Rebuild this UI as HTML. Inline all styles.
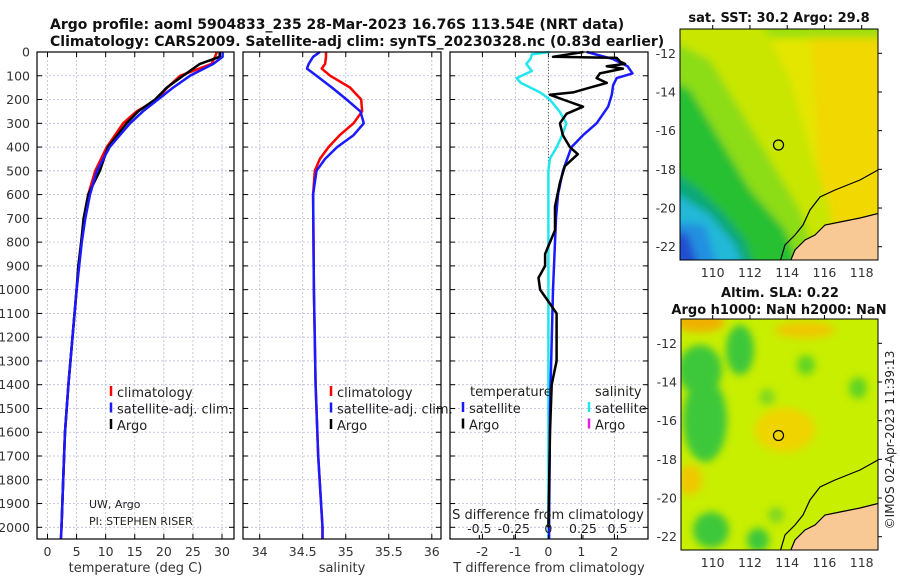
<!DOCTYPE html>
<html><head><meta charset="utf-8">
<style>
body{margin:0;background:#fff;width:900px;height:580px;overflow:hidden;font-family:"Liberation Sans","DejaVu Sans",sans-serif;}
svg text{font-family:"DejaVu Sans","Liberation Sans",sans-serif;}
</style></head>
<body>
<svg id="fig" width="900" height="580" viewBox="0 0 900 580">
<g id="titles">
<text x="50" y="29" font-size="14" font-weight="bold" fill="#111">Argo profile: aoml 5904833_235 28-Mar-2023 16.76S 113.54E (NRT data)</text>
<text x="50" y="46" font-size="14" font-weight="bold" fill="#111">Climatology: CARS2009. Satellite-adj clim: synTS_20230328.nc (0.83d earlier)</text>
</g>
<g id="panels"></g>
<g id="maps">
 <defs>
  <filter id="bl" x="-20%" y="-20%" width="140%" height="140%"><feGaussianBlur stdDeviation="4"/></filter>
  <filter id="bl2" x="-20%" y="-20%" width="140%" height="140%"><feGaussianBlur stdDeviation="4"/></filter>
  <clipPath id="c1"><rect x="680" y="29" width="198" height="231"/></clipPath>
  <clipPath id="c2"><rect x="681" y="319" width="197" height="231"/></clipPath>
 </defs>
 <text x="779" y="22" font-size="13" font-weight="bold" text-anchor="middle" fill="#111">sat. SST: 30.2 Argo: 29.8</text>
 <g clip-path="url(#c1)">
  <rect x="680" y="29" width="198" height="231" fill="#e4e600"/>
  <g filter="url(#bl)">
   <polygon points="810,20 890,20 890,270 830,270 820,200" fill="#f0d800"/>
   <rect x="670" y="20" width="220" height="18" fill="#9ee010"/>
   <polygon points="670,20 760,20 790,80 810,150 830,210 840,270 670,270" fill="#c8e600"/>
   <polygon points="670,40 710,60 740,110 770,160 800,210 820,270 670,270" fill="#8cdc18"/>
   <polygon points="670,80 690,90 720,140 750,190 785,230 800,270 670,270" fill="#28c030"/>
   <polygon points="670,170 700,190 725,215 745,240 755,270 670,270" fill="#10a878"/>
   <polygon points="670,190 710,215 735,245 745,270 670,270" fill="#20b8d8"/>
   <polygon points="670,222 705,225 718,270 670,270" fill="#2090e0"/>
   <polygon points="670,232 688,234 700,270 670,270" fill="#2050d0"/>
  </g>
  <polygon points="880,200 880,213 860,218 840,222 825,225 815,235 805,240 795,250 790,262 880,262" fill="#f9c995"/>
  <polyline points="878,170 860,180 835,190 820,197 810,210 803,225 795,235 785,245 780,262" fill="none" stroke="#000" stroke-width="1.2"/>
  <polyline points="880,213 860,218 840,222 825,225 815,235 805,240 795,250 790,262" fill="none" stroke="#000" stroke-width="1.2"/>
  <circle cx="778.5" cy="145" r="5" fill="none" stroke="#000" stroke-width="1.2"/>
 </g>
 <rect x="680" y="29" width="198" height="231" fill="none" stroke="#000" stroke-width="1"/>
 <text x="780" y="297" font-size="13" font-weight="bold" text-anchor="middle" fill="#111">Altim. SLA: 0.22</text>
 <text x="779" y="314" font-size="13" font-weight="bold" text-anchor="middle" fill="#111">Argo h1000: NaN h2000: NaN</text>
 <g clip-path="url(#c2)">
  <rect x="681" y="319" width="197" height="231" fill="#c8ee00"/>
  <g filter="url(#bl2)">
   <ellipse cx="700" cy="322" rx="25" ry="10" fill="#f0b000"/>
   <ellipse cx="805" cy="330" rx="30" ry="8" fill="#f0c800"/>
   <ellipse cx="785" cy="430" rx="30" ry="22" fill="#f0d400"/>
   <ellipse cx="690" cy="480" rx="12" ry="15" fill="#f0c800"/>
   <ellipse cx="700" cy="370" rx="22" ry="25" fill="#3cc83a"/>
   <ellipse cx="740" cy="350" rx="14" ry="25" fill="#3cc83a"/>
   <ellipse cx="705" cy="420" rx="22" ry="42" fill="#3cc83a"/>
   <ellipse cx="711" cy="530" rx="18" ry="18" fill="#3cc83a"/>
   <ellipse cx="758" cy="540" rx="11" ry="12" fill="#3cc83a"/>
   <ellipse cx="806" cy="365" rx="9" ry="10" fill="#60d424"/>
   <ellipse cx="858" cy="388" rx="9" ry="11" fill="#60d424"/>
   <ellipse cx="767" cy="397" rx="8" ry="8" fill="#80d820"/>
   <ellipse cx="776" cy="515" rx="8" ry="8" fill="#80d820"/>
  </g>
  <polygon points="880,490 880,503 860,508 840,512 825,515 815,525 805,530 795,540 790,552 880,552" fill="#f9c995"/>
  <polyline points="878,460 860,470 835,480 820,487 810,500 803,515 795,525 785,535 780,552" fill="none" stroke="#000" stroke-width="1.2"/>
  <polyline points="880,503 860,508 840,512 825,515 815,525 805,530 795,540 790,552" fill="none" stroke="#000" stroke-width="1.2"/>
  <circle cx="778.5" cy="435.5" r="5" fill="none" stroke="#000" stroke-width="1.2"/>
 </g>
 <rect x="681" y="319" width="197" height="231" fill="none" stroke="#000" stroke-width="1"/>
 <g id="mapticks"></g>
 <text transform="translate(894,440) rotate(-90)" font-size="12" text-anchor="middle" fill="#222">©IMOS 02-Apr-2023 11:39:13</text>
</g>
</svg>
<script>
// ---- data ----
const tempDepth = [0,20,50,100,150,200,250,300,400,500,600,700,800,900,1000,1400,1600,1800,2000,2050];
const tempClim  = [29.1,28.8,28.2,22.8,20.6,18.8,15.3,13.0,10.2,8.2,7.0,6.3,5.8,5.4,5.0,3.6,3.0,2.7,2.4,2.3];
const tempSat   = [30.1,30.1,28.5,24.5,21.6,19.0,16.4,14.2,10.7,8.5,7.3,6.5,5.9,5.45,5.0,3.6,3.0,2.7,2.4,2.3];
const tempArgo  = [29.6,29.6,26.2,23.3,20.5,18.5,15.6,13.6,10.4,9.0,7.0,6.2,5.8,5.3,5.0,3.6,3.0,2.7,2.4];
const salDepth  = [0,20,50,70,100,150,200,250,300,350,400,450,500,600,1000,1400,1700,2000,2050];
const salClim   = [34.77,34.77,34.76,34.72,34.82,35.05,35.18,35.19,35.09,34.93,34.80,34.70,34.64,34.62,34.63,34.65,34.68,34.73,34.73];
const salSat    = [34.70,34.62,34.57,34.55,34.66,34.84,35.01,35.17,35.21,35.09,34.90,34.76,34.66,34.62,34.63,34.65,34.68,34.73,34.73];
const dArgoDepth= [0,20,25,40,50,60,70,90,110,130,150,170,180,200,230,260,300,350,400,430,480,550,650,750,800,850,900,950,1000,1050,1100,1300,1400,1600,2000];
const dTArgo    = [1.06,0.14,2.07,2.17,2.32,1.77,2.26,1.56,1.46,1.77,1.26,0.75,0.05,0.44,1.05,0.55,0.35,0.44,0.65,0.89,0.5,0.35,0.2,0.2,0.05,-0.1,-0.1,-0.3,-0.25,0.0,0.25,0.25,0.1,0.05,0.0];
const dSatDepth = [0,30,60,90,110,140,180,230,300,350,400,500,600,700,900,1000,1500,2000,2050];
const dTSat     = [1.16,1.96,2.4,2.55,2.07,1.96,1.92,1.81,1.46,1.05,0.7,0.44,0.29,0.23,0.17,0.14,0.05,0.02,0.02];
const dSDepth   = [0,10,30,50,80,110,130,170,200,250,300,350,400,450,500,700,1000,2000,2050];
const dSSat     = [0.01,-0.12,-0.13,-0.16,-0.12,-0.23,-0.2,-0.06,0.01,0.08,0.13,0.1,0.06,0.01,0,0,0,0,0];
const depthTicks = [0,100,200,300,400,500,600,700,800,900,1000,1100,1200,1300,1400,1500,1600,1700,1800,1900,2000];
const tempTicks = [0,5,10,15,20,25,30];
const salTicks = [34,34.5,35,35.5,36];
const dTTicks = [-2,-1,0,1,2];
const dSTicks = [-0.5,-0.25,0,0.25,0.5];
const dSTickLabels = ['-0.5','-0.25','0','0.25','0.5'];
const latTicks = [-12,-14,-16,-18,-20,-22];
const lonTicks = [110,112,114,116,118];

// ---- helpers ----
const NS='http://www.w3.org/2000/svg';
const root=document.getElementById('panels');
function mk(tag,attrs,parent){const e=document.createElementNS(NS,tag);for(const k in attrs)e.setAttribute(k,attrs[k]);(parent||root).appendChild(e);return e;}
const yTop=52, yBot=539;
const yD=d=>52+d*0.23765;
function lin(d0,d1,r0,r1){return v=>r0+(v-d0)*(r1-r0)/(d1-d0);}

function panel(name,x0,x1,xs,ticks,labels,xlabel){
  const g=mk('g',{});
  
  
  depthTicks.forEach(d=>{const l=mk('line',{x1:x0,x2:x1,y1:yD(d),y2:yD(d),stroke:'#b8bcd8','stroke-width':0.8,'stroke-dasharray':'2,2'},g);
    });
  ticks.forEach((t,i)=>{const x=xs(t);
    const l=mk('line',{x1:x,x2:x,y1:yTop,y2:yBot,stroke:'#b8bcd8','stroke-width':0.8,'stroke-dasharray':'2,2'},g);
    
    mk('line',{x1:x,x2:x,y1:yBot,y2:yBot-5,stroke:'#000'},g);mk('line',{x1:x,x2:x,y1:yTop,y2:yTop+5,stroke:'#000'},g);
    const tx=mk('text',{x:x,y:556,'font-size':12.5,'text-anchor':'middle',fill:'#333'},g);tx.textContent=labels[i];
    });
  depthTicks.forEach(d=>{mk('line',{x1:x0,x2:x0+5,y1:yD(d),y2:yD(d),stroke:'#000'},g);mk('line',{x1:x1,x2:x1-5,y1:yD(d),y2:yD(d),stroke:'#000'},g);});
  const xl=mk('text',{x:(x0+x1)/2,y:572,'font-size':13,'text-anchor':'middle',fill:'#333'},g);xl.textContent=xlabel;
  
  return g;
}
function series(g,name,depths,vals,xs,color,w){
  const pts=vals.map((v,i)=>xs(v).toFixed(1)+','+yD(depths[i]).toFixed(1)).join(' ');
  const p=mk('polyline',{points:pts,fill:'none',stroke:color,'stroke-width':w||2.5,'stroke-linejoin':'round'},g);
  
}
function frame(g,x0,x1){mk('rect',{x:x0,y:yTop,width:x1-x0,height:yBot-yTop,fill:'none',stroke:'#000','stroke-width':1.2},g);}
function legend(g,x,y,items){items.forEach((it,i)=>{
  const yy=y+i*16.5;
  mk('line',{x1:x,x2:x,y1:yy-11,y2:yy-1,stroke:it[1],'stroke-width':2.5},g);
  const t=mk('text',{x:x+6,y:yy,'font-size':13,fill:'#222'},g);t.textContent=it[0];
  });}

depthTicks.forEach(d=>{const t=mk('text',{x:30,y:yD(d)+4.5,'font-size':12.5,'text-anchor':'end',fill:'#333'});t.textContent=d;
  });

const xT=lin(0,30,47.5,222);
const g1=panel('temperature-panel',37,234,xT,tempTicks,tempTicks.map(String),'temperature (deg C)');
series(g1,'temp-climatology-line',tempDepth,tempClim,xT,'#ff0000');
series(g1,'temp-argo-line',tempDepth.slice(0,tempArgo.length),tempArgo,xT,'#000');
series(g1,'temp-satellite-line',tempDepth,tempSat,xT,'#1a1aff');
frame(g1,37,234);
legend(g1,111,397,[['climatology','#ff0000'],['satellite-adj. clim.','#1a1aff'],['Argo','#000']]);
let t=mk('text',{x:89,y:508,'font-size':11,fill:'#222'},g1);t.textContent='UW, Argo';

t=mk('text',{x:89,y:525,'font-size':11,fill:'#222'},g1);t.textContent='PI: STEPHEN RISER';


const xS=lin(34,36,259.7,431.8);
const g2=panel('salinity-panel',243,441,xS,salTicks,['34','34.5','35','35.5','36'],'salinity');
series(g2,'sal-climatology-line',salDepth,salClim,xS,'#ff0000');
series(g2,'sal-satellite-line',salDepth,salSat,xS,'#1a1aff');
frame(g2,243,441);
legend(g2,331,397,[['climatology','#ff0000'],['satellite-adj. clim.','#1a1aff'],['Argo','#000']]);

const xDT=lin(0,1,548.4,581.4);
const xDS=lin(0,0.5,548.4,617.5);
const g3=panel('difference-panel',450,648,xDT,dTTicks,dTTicks.map(String),'T difference from climatology');
mk('line',{x1:xDT(0),x2:xDT(0),y1:yTop,y2:yBot,stroke:'#555','stroke-width':1,'stroke-dasharray':'1,2'},g3);
series(g3,'dS-satellite-line',dSDepth,dSSat,xDS,'#22e6ee');
series(g3,'dT-satellite-line',dSatDepth,dTSat,xDT,'#1a1aff');
series(g3,'dT-argo-line',dArgoDepth,dTArgo,xDT,'#000');
frame(g3,450,648);
dSTicks.forEach((s,i)=>{const x=xDS(s);mk('line',{x1:x,x2:x,y1:yBot,y2:yBot-4,stroke:'#000'},g3);
  const tx=mk('text',{x:x,y:533,'font-size':12.5,'text-anchor':'middle',fill:'#222'},g3);tx.textContent=dSTickLabels[i];
  });
t=mk('text',{x:548,y:519,'font-size':13,'text-anchor':'middle',fill:'#222'},g3);t.textContent='S difference from climatology';

t=mk('text',{x:470,y:396,'font-size':13,fill:'#222'},g3);t.textContent='temperature';

t=mk('text',{x:595,y:396,'font-size':13,fill:'#222'},g3);t.textContent='salinity';

legend(g3,463,413,[['satellite','#1a1aff'],['Argo','#000']]);
legend(g3,589,413,[['satellite','#22e6ee'],['Argo','#e020e0']]);

const mt=document.getElementById('mapticks');
function mapAxes(x0,x1,y0,y1,latY,lonX){
  latTicks.forEach(la=>{const y=latY(la);mk('line',{x1:x1,x2:x1+4,y1:y,y2:y,stroke:'#000'},mt);
    const tx=mk('text',{x:x0-4,y:y+4.5,'font-size':12.5,'text-anchor':'end',fill:'#333'},mt);tx.textContent=la;
    });
  lonTicks.forEach(lo=>{const x=lonX(lo);mk('line',{x1:x,x2:x,y1:y0,y2:y0-4,stroke:'#000'},mt);
    const tx=mk('text',{x:x,y:y1+17,'font-size':12.5,'text-anchor':'middle',fill:'#333'},mt);tx.textContent=lo;
    });
}
const lonX=lin(110,118,712.7,861.7);
mapAxes(680,878,29,260,lin(-12,-22,53.3,246.7),lonX);
mapAxes(681,878,319,550,lin(-12,-22,343.3,536.7),lonX);
</script>
</body></html>
